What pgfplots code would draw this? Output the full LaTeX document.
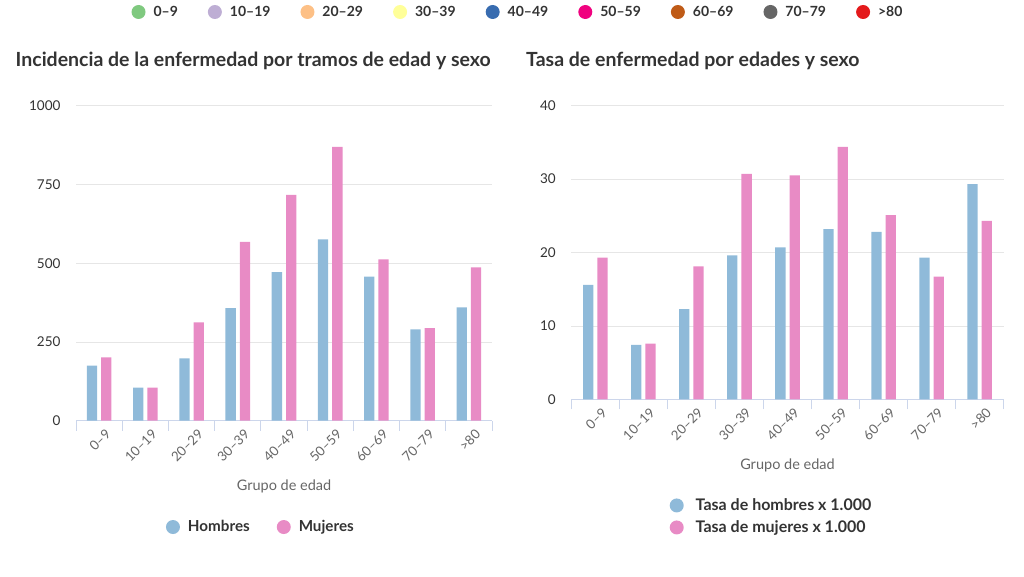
\documentclass[border=0pt]{standalone}
\usepackage{fontspec}
\setmainfont{Lato}
\usepackage{pgfplots}
\usepackage{pgfplotstable}
\pgfplotsset{compat=1.18}
\definecolor{hblue}{HTML}{8FBAD9}
\definecolor{mpink}{HTML}{E88BC5}
\definecolor{gridc}{HTML}{E6E6E6}
\definecolor{axc}{HTML}{CCD6EB}
\definecolor{txt}{HTML}{333333}
\definecolor{lab}{HTML}{666666}
\definecolor{c1}{HTML}{7FC97F}
\definecolor{c2}{HTML}{BEAED4}
\definecolor{c3}{HTML}{FDC086}
\definecolor{c4}{HTML}{FFFF99}
\definecolor{c5}{HTML}{386CB0}
\definecolor{c6}{HTML}{F0027F}
\definecolor{c7}{HTML}{BF5B17}
\definecolor{c8}{HTML}{666666}
\definecolor{c9}{HTML}{E41A1C}
\pgfplotstableread{
idx hom muj
0 175 201
1 105 105
2 198 312
3 357 568
4 472 717
5 576 869
6 457 512
7 290 294
8 360 487
}\incid
\pgfplotstableread{
idx hom muj
0 15.6 19.3
1 7.4 7.6
2 12.3 18.1
3 19.6 30.7
4 20.7 30.5
5 23.2 34.4
6 22.8 25.1
7 19.3 16.7
8 29.3 24.3
}\tasa
\pgfplotsset{
  barax/.style={
    scale only axis, ybar=4pt, bar width=10.3pt,
    xmin=-0.5, xmax=8.5, ymin=0,
    xtick={0,...,8},
    xticklabels={0–9,10–19,20–29,30–39,40–49,50–59,60–69,70–79,>80},
    minor xtick={-0.5,0.5,...,8.5},
    major x tick style={draw=none},
    minor x tick style={draw=axc, line width=1pt},
    minor tick length=10pt, major tick length=0pt,
    tick align=outside,
    axis x line*=bottom, axis y line*=left,
    x axis line style={draw=axc, line width=1pt, -},
    y axis line style={draw=none},
    major y tick style={draw=none},
    ymajorgrids, grid style={draw=gridc, line width=0.8pt},
    x tick label style={rotate=45, anchor=north east, font=\fontsize{13.3}{15}\selectfont, text=lab, yshift=-6pt, xshift=2pt},
    y tick label style={font=\fontsize{13.5}{16}\selectfont, text=txt, xshift=-12pt},
    /pgf/number format/assume math mode=true,
    /pgf/number format/1000 sep={},
    xlabel={Grupo de edad},
    xlabel style={font=\fontsize{14.5}{17}\selectfont, text=lab, yshift=-9pt},
    legend style={draw=none, fill=none, text=txt, nodes={inner sep=0pt},
      /tikz/every odd column/.append style={column sep=8pt}},
    legend image code/.code={\fill[##1, draw=none] (0pt,0pt) circle (7pt);},
  }
}
\begin{document}
\begin{tikzpicture}
\useasboundingbox (0pt,0pt) rectangle (1024pt,576pt);
% top legend
\begin{axis}[hide axis, scale only axis, width=10pt, height=10pt, at={(517pt,564pt)}, anchor=center,
  xmin=0,xmax=1,ymin=0,ymax=1, legend columns=9,
  legend style={at={(0.5,0.5)}, anchor=center, draw=none, fill=none, nodes={inner sep=0pt},
    font=\fontsize{14}{17}\selectfont\bfseries, text=txt,
    /tikz/every odd column/.append style={column sep=8pt},
    /tikz/every even column/.append style={column sep=30pt}},
  legend image code/.code={\fill[#1, draw=none] (0pt,0pt) circle (7pt);}]
\addlegendimage{fill=c1}\addlegendentry{0–9}
\addlegendimage{fill=c2}\addlegendentry{10–19}
\addlegendimage{fill=c3}\addlegendentry{20–29}
\addlegendimage{fill=c4}\addlegendentry{30–39}
\addlegendimage{fill=c5}\addlegendentry{40–49}
\addlegendimage{fill=c6}\addlegendentry{50–59}
\addlegendimage{fill=c7}\addlegendentry{60–69}
\addlegendimage{fill=c8}\addlegendentry{70–79}
\addlegendimage{fill=c9}\addlegendentry{>80}
\end{axis}
\node[anchor=base west, inner sep=0pt, font=\fontsize{19.5}{23}\selectfont\bfseries, text=txt] at (15.5pt,509.3pt) {Incidencia de la enfermedad por tramos de edad y sexo};
\node[anchor=base west, inner sep=0pt, font=\fontsize{19.5}{23}\selectfont\bfseries, text=txt] at (526pt,509.3pt) {Tasa de enfermedad por edades y sexo};
% left chart
\begin{axis}[barax, at={(76pt,155.3pt)}, anchor=south west, width=416pt, height=315pt,
  ymax=1000, ytick={0,250,500,750,1000},
  legend columns=2,
  legend style={at={(0.442,-0.3375)}, anchor=center, font=\fontsize{15.2}{18}\selectfont\bfseries,
    /tikz/every even column/.append style={column sep=27pt}}]
\addplot[fill=hblue, draw=none] table[x=idx,y=hom]{\incid};
\addlegendentry{Hombres}
\addplot[fill=mpink, draw=none] table[x=idx,y=muj]{\incid};
\addlegendentry{Mujeres}
\end{axis}
% right chart
\begin{axis}[barax, at={(571.3pt,176.7pt)}, anchor=south west, width=432.4pt, height=293.6pt,
  ymax=40, ytick={0,10,20,30,40},
  legend columns=1, legend cell align=left,
  legend style={at={(0.4607,-0.399)}, anchor=center, font=\fontsize{16}{19}\selectfont\bfseries,
    row sep=8pt, /tikz/every odd column/.append style={column sep=12pt}}]
\addplot[fill=hblue, draw=none] table[x=idx,y=hom]{\tasa};
\addlegendentry{Tasa de hombres x 1.000}
\addplot[fill=mpink, draw=none] table[x=idx,y=muj]{\tasa};
\addlegendentry{Tasa de mujeres x 1.000}
\end{axis}
\end{tikzpicture}
\end{document}
